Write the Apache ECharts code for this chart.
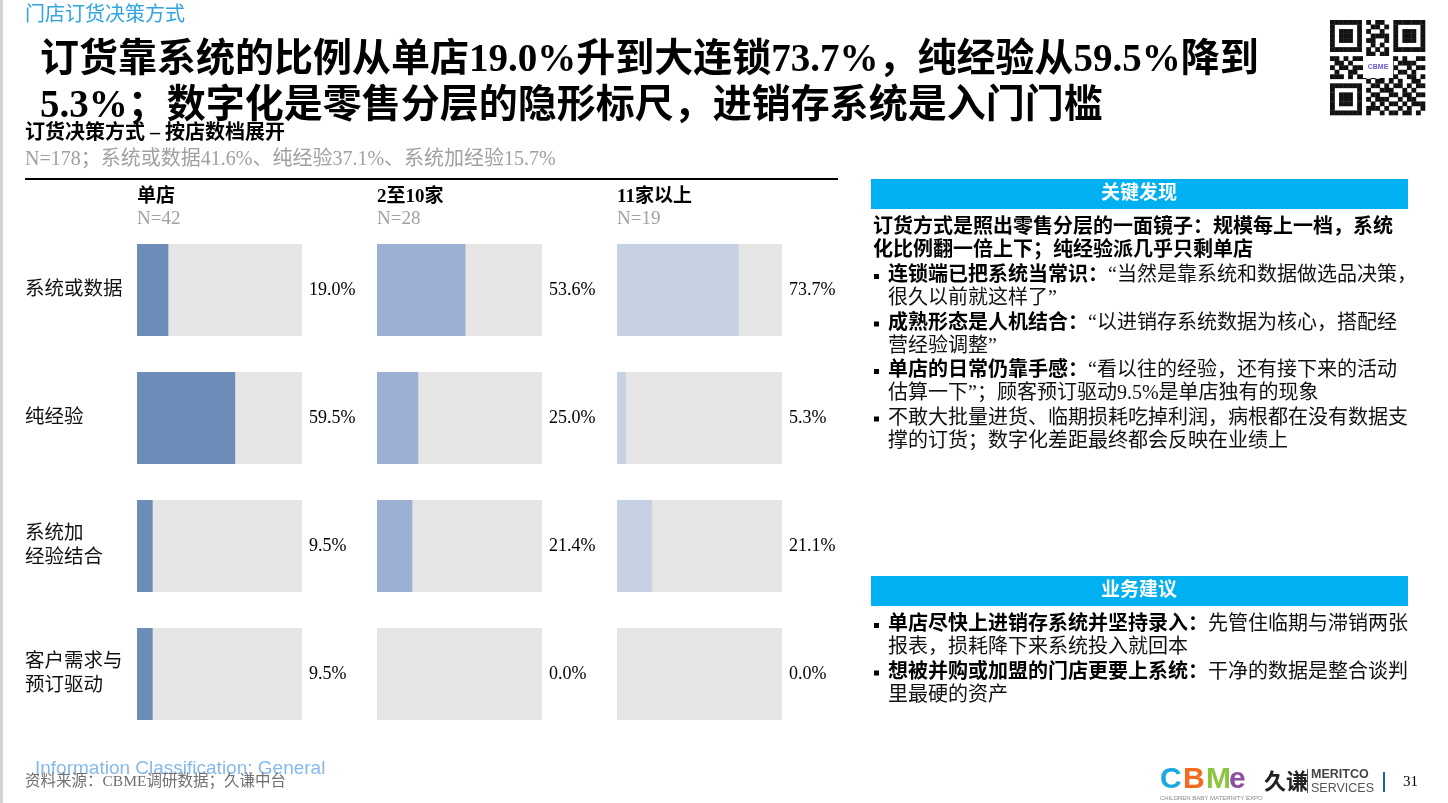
<!DOCTYPE html>
<html>
<head>
<meta charset="utf-8">
<script src="https://cdn.jsdelivr.net/npm/echarts@6/dist/echarts.min.js"></script>
<style>
  html, body { margin: 0; padding: 0; background: #fff; }
  #main { width: 1448px; height: 803px; }
</style>
</head>
<body>
<div id="main"></div>
<script>
// 门店订货决策方式 - 按店数档展开
var categories = ['系统或数据', '纯经验', '系统加\n经验结合', '客户需求与\n预订驱动'];
var tiers = ['单店', '2至10家', '11家以上'];
var tierN = ['N=42', 'N=28', 'N=19'];
var singleStore = [19.0, 59.5, 9.5, 9.5];
var midChain = [53.6, 25.0, 21.4, 0.0];
var bigChain = [73.7, 5.3, 21.1, 0.0];
var trackMax = [100, 100, 100, 100];
var tierValues = [singleStore, midChain, bigChain];
var tierColors = ['#6d8cb8', '#9cb0d3', '#c5d0e3'];

var FONT = "'Liberation Serif', 'Noto Sans CJK SC', serif";
var SANS = "'Liberation Sans', Arial, sans-serif";

// 右侧文字
var findingIntro = [
  '订货方式是照出零售分层的一面镜子：规模每上一档，系统',
  '化比例翻一倍上下；纯经验派几乎只剩单店'
];
var findings = [
  { head: '连锁端已把系统当常识：', lines: ['“当然是靠系统和数据做选品决策，', '很久以前就这样了”'] },
  { head: '成熟形态是人机结合：', lines: ['“以进销存系统数据为核心，搭配经', '营经验调整”'] },
  { head: '单店的日常仍靠手感：', lines: ['“看以往的经验，还有接下来的活动', '估算一下”；顾客预订驱动9.5%是单店独有的现象'] },
  { head: '', lines: ['不敢大批量进货、临期损耗吃掉利润，病根都在没有数据支', '撑的订货；数字化差距最终都会反映在业绩上'] }
];
var advice = [
  { head: '单店尽快上进销存系统并坚持录入：', lines: ['先管住临期与滞销两张', '报表，损耗降下来系统投入就回本'] },
  { head: '想被并购或加盟的门店更要上系统：', lines: ['干净的数据是整合谈判', '里最硬的资产'] }
];

var qrRows = [
  '111111101011001111111',
  '100000100110101000001',
  '101110101001001011101',
  '101110100111101011101',
  '101110101100101011101',
  '100000100101001000001',
  '111111101010101111111',
  '000000001101100000000',
  '110101110010111010011',
  '011010001101010111100',
  '101101110011001001011',
  '010011001110110110100',
  '111010110101011001101',
  '000000001011010100110',
  '111111100110101101011',
  '100000101001110010100',
  '101110100110011011011',
  '101110101011100101100',
  '101110100101011010111',
  '100000101110100101001',
  '111111101001011011010'
];

function txt(x, y, text, o) {
  o = o || {};
  return {
    type: 'text', x: x, y: y, silent: true,
    style: {
      text: text,
      fontSize: o.size || 20,
      fontFamily: o.family || FONT,
      fontWeight: o.weight || 'normal',
      fill: o.color || '#000',
      align: o.align || 'left',
      verticalAlign: 'middle',
      lineHeight: o.lineHeight,
      rich: o.rich
    }
  };
}

var richBody = {
  b: { fontSize: 20, fontFamily: FONT, fontWeight: 'bold', fill: '#000', color: '#000' },
  n: { fontSize: 20, fontFamily: FONT, fontWeight: 'normal', fill: '#111', color: '#111' }
};

function bulletBlock(items, y0, out) {
  var y = y0;
  items.forEach(function (it) {
    out.push({ type: 'rect', silent: true, shape: { x: 874, y: y - 2, width: 5, height: 5 }, style: { fill: '#000' } });
    var first = (it.head ? '{b|' + it.head + '}' : '') + '{n|' + it.lines[0] + '}';
    out.push(txt(888, y, first, { rich: richBody }));
    for (var k = 1; k < it.lines.length; k++) {
      y += 23;
      out.push(txt(888, y, '{n|' + it.lines[k] + '}', { rich: richBody }));
    }
    y += 24.5;
  });
}

var graphics = [];
// 左边框
graphics.push({ type: 'rect', shape: { x: 0, y: 0, width: 3, height: 803 }, style: { fill: '#d4d4d4' }, silent: true });
// 顶部标签
graphics.push(txt(25, 16, '门店订货决策方式', { size: 20, color: '#2fa4e0' }));
// 主标题
graphics.push(txt(40, 61, '订货靠系统的比例从单店19.0%升到大连锁73.7%，纯经验从59.5%降到', { size: 39, weight: 'bold' }));
graphics.push(txt(40, 107, '5.3%；数字化是零售分层的隐形标尺，进销存系统是入门门槛', { size: 39, weight: 'bold' }));
// 图表小标题
graphics.push(txt(25, 134, '订货决策方式 – 按店数档展开', { size: 20, weight: 'bold' }));
graphics.push(txt(25, 160, 'N=178；系统或数据41.6%、纯经验37.1%、系统加经验15.7%', { size: 20, color: '#a0a0a0' }));
graphics.push({ type: 'rect', shape: { x: 25, y: 178, width: 813, height: 2 }, style: { fill: '#000' }, silent: true });
// 分档表头
for (var i = 0; i < tiers.length; i++) {
  graphics.push(txt(137 + 240 * i, 197, tiers[i], { size: 19, weight: 'bold' }));
  graphics.push(txt(137 + 240 * i, 219, tierN[i], { size: 19, color: '#a0a0a0' }));
}

// 右侧：关键发现
graphics.push({ type: 'rect', shape: { x: 871, y: 179, width: 537, height: 30 }, style: { fill: '#00b0f0' }, silent: true });
graphics.push(txt(1139, 194, '关键发现', { size: 19, weight: 'bold', color: '#fff', align: 'center' }));
graphics.push(txt(873, 228, findingIntro[0], { weight: 'bold' }));
graphics.push(txt(873, 251, findingIntro[1], { weight: 'bold' }));
bulletBlock(findings, 276, graphics);

// 右侧：业务建议
graphics.push({ type: 'rect', shape: { x: 871, y: 576, width: 537, height: 30 }, style: { fill: '#00b0f0' }, silent: true });
graphics.push(txt(1139, 591, '业务建议', { size: 19, weight: 'bold', color: '#fff', align: 'center' }));
bulletBlock(advice, 625, graphics);

// 二维码
var qrX = 1330, qrY = 20, qrCell = 95 / qrRows.length;
qrRows.forEach(function (row, r) {
  for (var c = 0; c < row.length; c++) {
    if (row[c] === '1') {
      graphics.push({ type: 'rect', silent: true,
        shape: { x: qrX + c * qrCell, y: qrY + r * qrCell, width: qrCell + 0.3, height: qrCell + 0.3 },
        style: { fill: '#111' } });
    }
  }
});
graphics.push({ type: 'rect', shape: { x: 1363, y: 56, width: 30, height: 22 }, style: { fill: '#fff' }, silent: true });
graphics.push(txt(1378, 67, 'CBME', { size: 7, family: SANS, weight: 'bold', color: '#6a5acd', align: 'center' }));

// 页脚
graphics.push(txt(35, 769, 'Information Classification: General', { size: 19, family: SANS, color: '#86b9ea' }));
graphics.push(txt(25, 782, '资料来源：CBME调研数据；久谦中台', { size: 15.5, color: '#707070' }));
var logo = [['C', '#1ba9e1'], ['B', '#f26b21'], ['M', '#8cc63f'], ['e', '#8e4fa0']];
logo.forEach(function (l, k) {
  graphics.push(txt(1160 + k * 23, 780, l[0], { size: 30, family: SANS, weight: 'bold', color: l[1] }));
});
graphics.push(txt(1160, 798, 'CHILDREN BABY MATERNITY EXPO', { size: 6, family: SANS, color: '#888' }));
graphics.push(txt(1264, 781, '久谦', { size: 22, family: "'Noto Sans CJK SC'", weight: 'bold', color: '#222' }));
graphics.push({ type: 'rect', shape: { x: 1307, y: 769, width: 1, height: 24 }, style: { fill: '#555' }, silent: true });
graphics.push(txt(1311, 775, 'MERITCO', { size: 12.5, family: SANS, weight: 'bold', color: '#444' }));
graphics.push(txt(1311, 789, 'SERVICES', { size: 12.5, family: SANS, color: '#555' }));
graphics.push({ type: 'rect', shape: { x: 1383, y: 772, width: 2, height: 20 }, style: { fill: '#1f5fa8' }, silent: true });
graphics.push(txt(1403, 782, '31', { size: 15, family: FONT, color: '#000' }));

// 三个分档条形图
var grids = [], xAxes = [], yAxes = [], series = [];
tierValues.forEach(function (vals, i) {
  grids.push({ left: 137 + 240 * i, top: 226, width: 165, height: 512 });
  xAxes.push({ gridIndex: i, type: 'value', min: 0, max: 100, show: false });
  yAxes.push({
    gridIndex: i, type: 'category', data: categories, inverse: true,
    axisLine: { show: false }, axisTick: { show: false },
    axisLabel: {
      show: i === 0, align: 'left', margin: 112,
      fontSize: 19.5, lineHeight: 24, fontFamily: FONT, color: '#111'
    }
  });
  series.push({
    type: 'bar', xAxisIndex: i, yAxisIndex: i, data: trackMax,
    barWidth: 92, barGap: '-100%', silent: true, z: 1,
    itemStyle: { color: '#e5e5e5' },
    label: {
      show: true, position: 'right', distance: 7,
      fontSize: 18, fontFamily: FONT, color: '#000',
      formatter: function (p) { return vals[p.dataIndex].toFixed(1) + '%'; }
    }
  });
  series.push({
    type: 'bar', xAxisIndex: i, yAxisIndex: i, data: vals,
    barWidth: 92, barGap: '-100%', silent: true, z: 2,
    itemStyle: { color: tierColors[i] }
  });
});

var chart = echarts.init(document.getElementById('main'));
chart.setOption({
  backgroundColor: '#fff',
  animation: false,
  grid: grids,
  xAxis: xAxes,
  yAxis: yAxes,
  series: series,
  graphic: graphics
});
</script>
</body>
</html>
